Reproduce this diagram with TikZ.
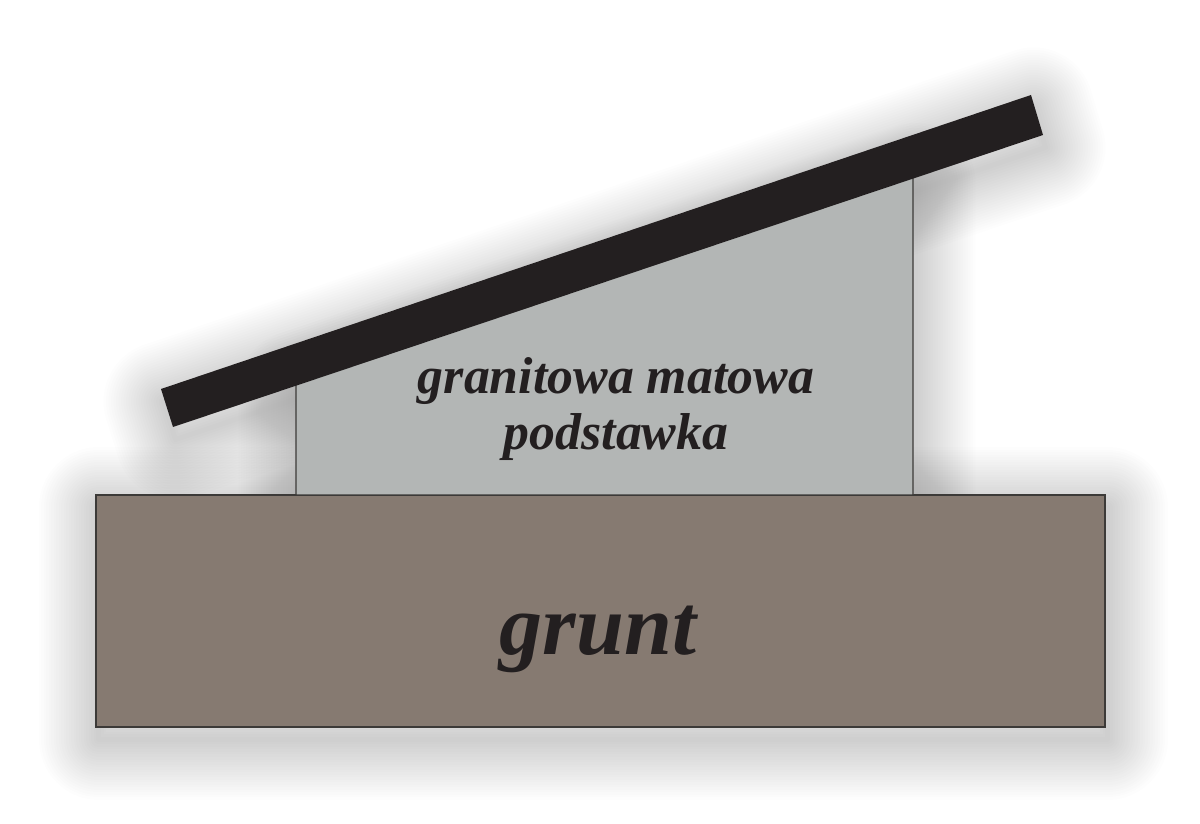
\documentclass[tikz,border=0pt]{standalone}
\usepackage{fontspec}
\setmainfont{Liberation Serif}
\definecolor{groundbrown}{HTML}{867A71}
\definecolor{standgray}{HTML}{B3B6B5}
\definecolor{slabblack}{HTML}{231F20}
\definecolor{edgegray}{HTML}{3C3A38}
% soft blurred shadow behind a closed path
\newcommand{\softshadow}[1]{%
  \foreach \r in {1,...,24}
    \draw[black, draw opacity=0.008, line width=\r*1mm, line join=round, shift={(0.05,-0.25)}] #1;
}

\begin{document}
\begin{tikzpicture}[x=1cm, y=1cm]
			\useasboundingbox (0,0) rectangle (24,16.46);

			% Shadows of the three parts
			\softshadow{(1.92,1.92) rectangle (22.1,6.56)}
			\softshadow{(5.92,6.56) -- (5.92,8.9) -- (18.26,13.05) -- (18.26,6.56) -- cycle}
			\softshadow{(3.22,8.68) -- (20.62,14.56) -- (20.86,13.76) -- (3.46,7.92) -- cycle}

			% Draw the ground
			\draw[fill=groundbrown, draw=edgegray, line width=0.6pt] (1.92,1.92) rectangle (22.1,6.56);

			% Draw the granite stand
			\draw[fill=standgray, draw=edgegray, line width=0.6pt] (5.92,6.56) -- (5.92,8.9) -- (18.26,13.05) -- (18.26,6.56) -- cycle;

			% Draw the tilted slab on top
			\fill[slabblack] (3.22,8.68) -- (20.62,14.56) -- (20.86,13.76) -- (3.46,7.92) -- cycle;

			% Label the parts
			\node[text=slabblack, align=center, font=\fontsize{29.5}{31.5}\selectfont\bfseries\itshape] (stand-label) at (12.32,8.28) {granitowa matowa\\podstawka};
			\node[text=slabblack, font=\fontsize{49}{49}\selectfont\bfseries\itshape] (ground-label) at (11.96,3.68) {grunt};
		\end{tikzpicture}
\end{document}
